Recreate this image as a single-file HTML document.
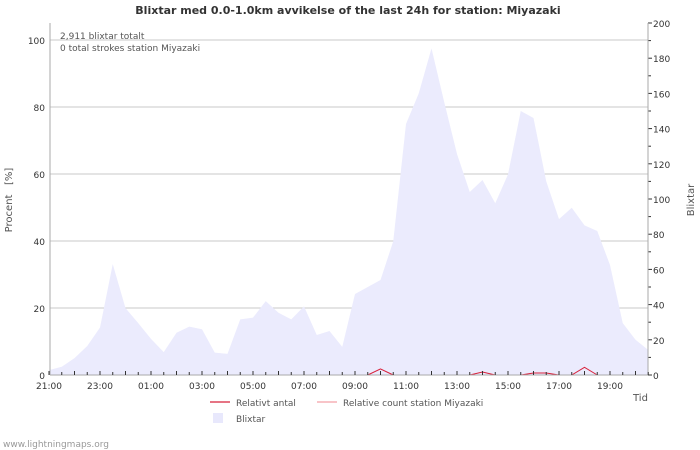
<!DOCTYPE html>
<html><head><meta charset="utf-8"><style>
body{margin:0;background:#fff;}
svg{display:block;font-family:"DejaVu Sans","Liberation Sans",sans-serif;}
</style></head><body>
<svg id="chart" width="700" height="450" viewBox="0 0 700 450">
<rect x="0" y="0" width="700" height="450" fill="#fff"/>
<text x="348" y="14" text-anchor="middle" font-size="11" font-weight="bold" fill="#333">Blixtar med 0.0-1.0km avvikelse of the last 24h for station: Miyazaki</text>
<g id="grid"></g>
<g id="area"></g>
<g id="lines"></g>
<g id="axes"></g>
<text x="60" y="39" font-size="9" fill="#555">2,911 blixtar totalt</text>
<text x="60" y="51" font-size="9" fill="#555">0 total strokes station Miyazaki</text>
<text transform="translate(12,200) rotate(-90)" text-anchor="middle" font-size="10" fill="#555" xml:space="preserve">Procent   [%]</text>
<text transform="translate(694,200) rotate(-90)" text-anchor="middle" font-size="10" fill="#555">Blixtar</text>
<text x="633" y="401" font-size="10" fill="#555">Tid</text>
<g>
<line x1="210" y1="402" x2="230" y2="402" stroke="#d8203a" stroke-width="1.2"/>
<text x="236" y="406" font-size="9" fill="#555">Relativt antal</text>
<line x1="317" y1="402" x2="337" y2="402" stroke="#f4a0a8" stroke-width="1.2"/>
<text x="343" y="406" font-size="9" fill="#555">Relative count station Miyazaki</text>
<rect x="213" y="413" width="10" height="10" fill="#e8e8fc"/>
<text x="236" y="422" font-size="9" fill="#555">Blixtar</text>
</g>
<text x="3" y="447" font-size="9" fill="#999">www.lightningmaps.org</text>
</svg>
<script>
const timeLabels = ["21:00","23:00","01:00","03:00","05:00","07:00","09:00","11:00","13:00","15:00","17:00","19:00"];
const leftTicks = [0,20,40,60,80,100];
const rightTicks = [0,20,40,60,80,100,120,140,160,180,200];
const blixtar = [2.8,4.7,9.6,16.5,27,63,38,29.5,20.5,13,24,27.5,26,12.7,12,31.6,32.6,42,35.4,31.6,39,22.7,25,16,46,50,54,76,142.6,160,185.6,155,125.6,104,110.8,97.6,114,150,146,110,88.6,95,85,81.8,62.5,29.5,20,14.2];
const relativeCount = [null,null,null,null,null,null,null,null,null,null,null,null,null,null,null,null,null,null,null,null,null,null,null,null,null,0,1.8,0,null,null,null,null,null,0,0.9,0,null,0,0.6,0.6,0,0,2.3,0,null,null,null,null];

const NS="http://www.w3.org/2000/svg";
const X0=50,X1=648,Y0=375,YTOP=23;
const pxPerHalfHour=12.75;
const xAt=i=>49+i*pxPerHalfHour;
const yL=v=>Y0-v*3.35;
const yR=v=>Y0-v*1.76;
function mk(tag,attrs,parent){const e=document.createElementNS(NS,tag);for(const k in attrs)e.setAttribute(k,attrs[k]);parent.appendChild(e);return e;}
const grid=document.getElementById('grid'),area=document.getElementById('area'),lines=document.getElementById('lines'),axes=document.getElementById('axes');

leftTicks.forEach(v=>{
  if(v>0){const g=mk('line',{x1:X0,x2:X1,y1:yL(v),y2:yL(v),stroke:'#c8c8c8','stroke-width':1},grid);
  
  }
  const t=mk('text',{x:45,y:yL(v)+4,'text-anchor':'end','font-size':9,fill:'#333'},axes);
  t.textContent=v;
  
  
});
rightTicks.forEach(v=>{
  const t=mk('text',{x:653,y:yR(v)+4,'font-size':9,fill:'#333'},axes);
  t.textContent=v;
  
  
});
for(let v=0;v<=200;v+=10){
  const tk=mk('line',{x1:X1,x2:X1+(v%20===0?4:3),y1:yR(v),y2:yR(v),stroke:'#333'},axes);
  
  
}
let d='M'+xAt(0)+','+Y0;
blixtar.forEach((v,i)=>{d+=' L'+xAt(i)+','+yR(v);});
d+=' L'+xAt(blixtar.length-1)+','+Y0+' Z';
const ap=mk('path',{d:d,fill:'#ebebfd',stroke:'none'},area);


let seg='';
relativeCount.forEach((v,i)=>{
  if(v===null)return;
  const prev=i>0?relativeCount[i-1]:null;
  seg+=(prev===null?' M':' L')+xAt(i)+','+yL(v);
});
const rl=mk('path',{d:seg,fill:'none',stroke:'#d8203a','stroke-width':1},lines);


const la=mk('line',{x1:X0,x2:X0,y1:YTOP,y2:Y0,stroke:'#aaa'},axes);


const ra=mk('line',{x1:X1,x2:X1,y1:YTOP,y2:Y0,stroke:'#aaa'},axes);


const ba=mk('line',{x1:X0,x2:X1,y1:Y0,y2:Y0,stroke:'#aaa'},axes);


for(let i=0;i<blixtar.length;i++){
  const tk=mk('line',{x1:xAt(i),x2:xAt(i),y1:Y0-(i%2===0?4:3),y2:Y0,stroke:'#333'},axes);
  
  
}
timeLabels.forEach((lab,k)=>{
  const t=mk('text',{x:xAt(k*4),y:389,'text-anchor':'middle','font-size':9,fill:'#333'},axes);
  t.textContent=lab;
  
  
});
</script>
</body></html>
